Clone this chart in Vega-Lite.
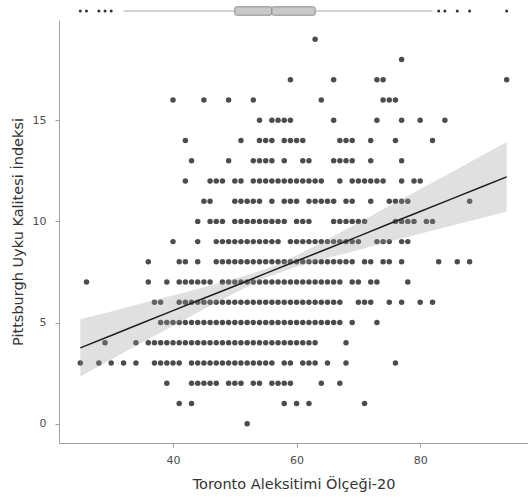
{
"$schema": "https://vega.github.io/schema/vega-lite/v6.json",
"padding": {"left": 10, "top": 0, "right": 0, "bottom": 2},
"config": {"font": "DejaVu Sans", "view": {"stroke": null}},
"datasets": {
"box": [{"lower": 32, "q1": 50, "median": 56, "q3": 63, "upper": 82}],
"outliers": [{"x": 25}, {"x": 26}, {"x": 28}, {"x": 29}, {"x": 30}, {"x": 83}, {"x": 84}, {"x": 86}, {"x": 88}, {"x": 94}],
"fit": [
{"x": 25, "fit": 3.75, "lo": 2.34, "hi": 5.16},
{"x": 30, "fit": 4.36, "lo": 3.17, "hi": 5.55},
{"x": 35, "fit": 4.98, "lo": 4.01, "hi": 5.95},
{"x": 40, "fit": 5.59, "lo": 4.84, "hi": 6.34},
{"x": 45, "fit": 6.20, "lo": 5.66, "hi": 6.74},
{"x": 50, "fit": 6.81, "lo": 6.46, "hi": 7.16},
{"x": 55, "fit": 7.43, "lo": 7.21, "hi": 7.65},
{"x": 60, "fit": 8.04, "lo": 7.76, "hi": 8.32},
{"x": 65, "fit": 8.65, "lo": 8.19, "hi": 9.11},
{"x": 70, "fit": 9.26, "lo": 8.59, "hi": 9.93},
{"x": 75, "fit": 9.88, "lo": 9.00, "hi": 10.76},
{"x": 80, "fit": 10.49, "lo": 9.39, "hi": 11.59},
{"x": 85, "fit": 11.10, "lo": 9.78, "hi": 12.42},
{"x": 90, "fit": 11.71, "lo": 10.17, "hi": 13.25},
{"x": 94, "fit": 12.20, "lo": 10.48, "hi": 13.92}
],
"points": [
{"y":19,"x":63},
{"y":18,"x":77},
{"y":17,"x":59},{"y":17,"x":66},{"y":17,"x":73},{"y":17,"x":74},{"y":17,"x":94},
{"y":16,"x":40},{"y":16,"x":45},{"y":16,"x":49},{"y":16,"x":53},{"y":16,"x":64},{"y":16,"x":74},{"y":16,"x":75},{"y":16,"x":76},
{"y":15,"x":54},{"y":15,"x":56},{"y":15,"x":57},{"y":15,"x":58},{"y":15,"x":59},{"y":15,"x":66},{"y":15,"x":73},{"y":15,"x":77},{"y":15,"x":80},{"y":15,"x":84},
{"y":14,"x":42},{"y":14,"x":51},{"y":14,"x":54},{"y":14,"x":55},{"y":14,"x":56},{"y":14,"x":58},{"y":14,"x":59},{"y":14,"x":60},{"y":14,"x":61},{"y":14,"x":67},{"y":14,"x":68},{"y":14,"x":69},{"y":14,"x":72},{"y":14,"x":76},{"y":14,"x":82},
{"y":13,"x":43},{"y":13,"x":49},{"y":13,"x":53},{"y":13,"x":54},{"y":13,"x":55},{"y":13,"x":56},{"y":13,"x":58},{"y":13,"x":61},{"y":13,"x":62},{"y":13,"x":66},{"y":13,"x":67},{"y":13,"x":68},{"y":13,"x":69},{"y":13,"x":72},{"y":13,"x":77},
{"y":12,"x":42},{"y":12,"x":46},{"y":12,"x":47},{"y":12,"x":48},{"y":12,"x":50},{"y":12,"x":51},{"y":12,"x":53},{"y":12,"x":54},{"y":12,"x":55},{"y":12,"x":56},{"y":12,"x":57},{"y":12,"x":58},{"y":12,"x":59},{"y":12,"x":60},{"y":12,"x":61},{"y":12,"x":62},{"y":12,"x":63},{"y":12,"x":64},{"y":12,"x":67},{"y":12,"x":69},{"y":12,"x":70},{"y":12,"x":71},{"y":12,"x":72},{"y":12,"x":73},{"y":12,"x":74},{"y":12,"x":77},{"y":12,"x":79},{"y":12,"x":80},
{"y":11,"x":45},{"y":11,"x":46},{"y":11,"x":50},{"y":11,"x":51},{"y":11,"x":52},{"y":11,"x":53},{"y":11,"x":54},{"y":11,"x":56},{"y":11,"x":58},{"y":11,"x":59},{"y":11,"x":60},{"y":11,"x":62},{"y":11,"x":63},{"y":11,"x":64},{"y":11,"x":65},{"y":11,"x":66},{"y":11,"x":68},{"y":11,"x":69},{"y":11,"x":72},{"y":11,"x":75},{"y":11,"x":76},{"y":11,"x":77},{"y":11,"x":78},{"y":11,"x":88},
{"y":10,"x":44},{"y":10,"x":46},{"y":10,"x":47},{"y":10,"x":48},{"y":10,"x":50},{"y":10,"x":51},{"y":10,"x":52},{"y":10,"x":53},{"y":10,"x":54},{"y":10,"x":55},{"y":10,"x":56},{"y":10,"x":57},{"y":10,"x":58},{"y":10,"x":60},{"y":10,"x":61},{"y":10,"x":62},{"y":10,"x":66},{"y":10,"x":67},{"y":10,"x":68},{"y":10,"x":69},{"y":10,"x":70},{"y":10,"x":71},{"y":10,"x":76},{"y":10,"x":77},{"y":10,"x":78},{"y":10,"x":79},{"y":10,"x":81},{"y":10,"x":82},
{"y":9,"x":40},{"y":9,"x":44},{"y":9,"x":47},{"y":9,"x":48},{"y":9,"x":49},{"y":9,"x":50},{"y":9,"x":51},{"y":9,"x":52},{"y":9,"x":53},{"y":9,"x":54},{"y":9,"x":55},{"y":9,"x":56},{"y":9,"x":57},{"y":9,"x":59},{"y":9,"x":60},{"y":9,"x":61},{"y":9,"x":62},{"y":9,"x":63},{"y":9,"x":64},{"y":9,"x":65},{"y":9,"x":66},{"y":9,"x":67},{"y":9,"x":68},{"y":9,"x":69},{"y":9,"x":70},{"y":9,"x":73},{"y":9,"x":74},{"y":9,"x":75},{"y":9,"x":77},{"y":9,"x":78},
{"y":8,"x":36},{"y":8,"x":41},{"y":8,"x":42},{"y":8,"x":44},{"y":8,"x":47},{"y":8,"x":48},{"y":8,"x":49},{"y":8,"x":50},{"y":8,"x":51},{"y":8,"x":52},{"y":8,"x":53},{"y":8,"x":54},{"y":8,"x":55},{"y":8,"x":56},{"y":8,"x":57},{"y":8,"x":58},{"y":8,"x":59},{"y":8,"x":60},{"y":8,"x":61},{"y":8,"x":62},{"y":8,"x":63},{"y":8,"x":64},{"y":8,"x":65},{"y":8,"x":66},{"y":8,"x":67},{"y":8,"x":68},{"y":8,"x":69},{"y":8,"x":71},{"y":8,"x":72},{"y":8,"x":74},{"y":8,"x":75},{"y":8,"x":77},{"y":8,"x":83},{"y":8,"x":86},{"y":8,"x":88},
{"y":7,"x":26},{"y":7,"x":36},{"y":7,"x":39},{"y":7,"x":41},{"y":7,"x":42},{"y":7,"x":43},{"y":7,"x":44},{"y":7,"x":45},{"y":7,"x":46},{"y":7,"x":48},{"y":7,"x":49},{"y":7,"x":50},{"y":7,"x":51},{"y":7,"x":52},{"y":7,"x":53},{"y":7,"x":54},{"y":7,"x":55},{"y":7,"x":56},{"y":7,"x":57},{"y":7,"x":58},{"y":7,"x":59},{"y":7,"x":60},{"y":7,"x":61},{"y":7,"x":62},{"y":7,"x":63},{"y":7,"x":64},{"y":7,"x":65},{"y":7,"x":66},{"y":7,"x":67},{"y":7,"x":69},{"y":7,"x":70},{"y":7,"x":72},{"y":7,"x":73},{"y":7,"x":78},
{"y":6,"x":37},{"y":6,"x":38},{"y":6,"x":41},{"y":6,"x":42},{"y":6,"x":43},{"y":6,"x":44},{"y":6,"x":45},{"y":6,"x":46},{"y":6,"x":47},{"y":6,"x":48},{"y":6,"x":49},{"y":6,"x":50},{"y":6,"x":51},{"y":6,"x":52},{"y":6,"x":53},{"y":6,"x":54},{"y":6,"x":55},{"y":6,"x":56},{"y":6,"x":57},{"y":6,"x":58},{"y":6,"x":59},{"y":6,"x":60},{"y":6,"x":61},{"y":6,"x":62},{"y":6,"x":63},{"y":6,"x":64},{"y":6,"x":65},{"y":6,"x":66},{"y":6,"x":67},{"y":6,"x":70},{"y":6,"x":71},{"y":6,"x":72},{"y":6,"x":75},{"y":6,"x":77},{"y":6,"x":80},{"y":6,"x":82},
{"y":5,"x":38},{"y":5,"x":39},{"y":5,"x":40},{"y":5,"x":41},{"y":5,"x":42},{"y":5,"x":43},{"y":5,"x":44},{"y":5,"x":45},{"y":5,"x":46},{"y":5,"x":47},{"y":5,"x":48},{"y":5,"x":49},{"y":5,"x":50},{"y":5,"x":51},{"y":5,"x":52},{"y":5,"x":53},{"y":5,"x":54},{"y":5,"x":55},{"y":5,"x":56},{"y":5,"x":57},{"y":5,"x":58},{"y":5,"x":59},{"y":5,"x":60},{"y":5,"x":61},{"y":5,"x":62},{"y":5,"x":63},{"y":5,"x":64},{"y":5,"x":65},{"y":5,"x":66},{"y":5,"x":67},{"y":5,"x":69},{"y":5,"x":73},
{"y":4,"x":29},{"y":4,"x":34},{"y":4,"x":36},{"y":4,"x":37},{"y":4,"x":38},{"y":4,"x":39},{"y":4,"x":40},{"y":4,"x":41},{"y":4,"x":42},{"y":4,"x":43},{"y":4,"x":44},{"y":4,"x":45},{"y":4,"x":46},{"y":4,"x":47},{"y":4,"x":48},{"y":4,"x":49},{"y":4,"x":50},{"y":4,"x":51},{"y":4,"x":52},{"y":4,"x":53},{"y":4,"x":54},{"y":4,"x":55},{"y":4,"x":56},{"y":4,"x":57},{"y":4,"x":58},{"y":4,"x":59},{"y":4,"x":60},{"y":4,"x":61},{"y":4,"x":62},{"y":4,"x":63},{"y":4,"x":68},
{"y":3,"x":25},{"y":3,"x":28},{"y":3,"x":30},{"y":3,"x":32},{"y":3,"x":34},{"y":3,"x":37},{"y":3,"x":38},{"y":3,"x":39},{"y":3,"x":40},{"y":3,"x":41},{"y":3,"x":43},{"y":3,"x":44},{"y":3,"x":45},{"y":3,"x":46},{"y":3,"x":47},{"y":3,"x":48},{"y":3,"x":49},{"y":3,"x":50},{"y":3,"x":51},{"y":3,"x":52},{"y":3,"x":53},{"y":3,"x":54},{"y":3,"x":55},{"y":3,"x":56},{"y":3,"x":58},{"y":3,"x":59},{"y":3,"x":61},{"y":3,"x":62},{"y":3,"x":63},{"y":3,"x":65},{"y":3,"x":68},{"y":3,"x":76},
{"y":2,"x":39},{"y":2,"x":43},{"y":2,"x":44},{"y":2,"x":45},{"y":2,"x":46},{"y":2,"x":47},{"y":2,"x":49},{"y":2,"x":50},{"y":2,"x":51},{"y":2,"x":53},{"y":2,"x":54},{"y":2,"x":56},{"y":2,"x":57},{"y":2,"x":58},{"y":2,"x":59},{"y":2,"x":64},{"y":2,"x":67},
{"y":1,"x":41},{"y":1,"x":43},{"y":1,"x":58},{"y":1,"x":60},{"y":1,"x":62},{"y":1,"x":71},
{"y":0,"x":52}
]
},
"spacing": 0,
"vconcat": [
{
"width": 469,
"height": 20,
"layer": [
{"data": {"name": "box"}, "mark": {"type": "rule", "color": "#a6a6a6", "strokeWidth": 1},
 "encoding": {
  "x": {"field": "lower", "type": "quantitative", "scale": {"domain": [21.55, 97.45], "nice": false, "zero": false}, "axis": null},
  "x2": {"field": "upper"},
  "y": {"datum": 0.45, "type": "quantitative", "scale": {"domain": [0, 1], "nice": false, "zero": false}, "axis": null}}},
{"data": {"name": "box"}, "mark": {"type": "rect", "fill": "#c8c8c8", "stroke": "#8c8c8c", "strokeWidth": 1, "cornerRadius": 1.5},
 "encoding": {
  "x": {"field": "q1", "type": "quantitative"},
  "x2": {"field": "median"},
  "y": {"datum": 0.24, "type": "quantitative"},
  "y2": {"datum": 0.66}}},
{"data": {"name": "box"}, "mark": {"type": "rect", "fill": "#c8c8c8", "stroke": "#8c8c8c", "strokeWidth": 1, "cornerRadius": 1.5},
 "encoding": {
  "x": {"field": "median", "type": "quantitative"},
  "x2": {"field": "q3"},
  "y": {"datum": 0.24, "type": "quantitative"},
  "y2": {"datum": 0.66}}},
{"data": {"name": "outliers"}, "mark": {"type": "circle", "color": "#333333", "opacity": 1, "size": 9},
 "encoding": {
  "x": {"field": "x", "type": "quantitative"},
  "y": {"datum": 0.45, "type": "quantitative"}}}
]
},
{
"width": 469,
"height": 423,
"layer": [
{"data": {"name": "points"}, "mark": {"type": "circle", "color": "#333333", "opacity": 0.88, "size": 30},
 "encoding": {
  "x": {"field": "x", "type": "quantitative", "scale": {"domain": [21.55, 97.45], "nice": false, "zero": false},
   "axis": {"title": "Toronto Aleksitimi Ölçeği-20", "values": [40, 60, 80], "grid": false, "tickSize": 4, "labelFontSize": 11, "titleFontSize": 14.5, "labelColor": "#4d4d4d", "titleColor": "#333333", "titleFontWeight": "normal", "domainColor": "#9e9e9e", "tickColor": "#9e9e9e", "labelPadding": 7, "titlePadding": 12}},
  "y": {"field": "y", "type": "quantitative", "scale": {"domain": [-0.95, 19.95], "nice": false, "zero": false},
   "axis": {"title": "Pittsburgh Uyku Kalitesi İndeksi", "values": [0, 5, 10, 15], "grid": false, "tickSize": 4, "labelFontSize": 11, "titleFontSize": 14.5, "labelColor": "#4d4d4d", "titleColor": "#333333", "titleFontWeight": "normal", "domainColor": "#9e9e9e", "tickColor": "#9e9e9e", "labelPadding": 9, "titlePadding": 7}}}},
{"data": {"name": "fit"}, "mark": {"type": "area", "color": "#999999", "opacity": 0.3},
 "encoding": {
  "x": {"field": "x", "type": "quantitative"},
  "y": {"field": "lo", "type": "quantitative"},
  "y2": {"field": "hi"}}},
{"data": {"name": "fit"}, "mark": {"type": "line", "color": "#1f1f1f", "strokeWidth": 1.5},
 "encoding": {
  "x": {"field": "x", "type": "quantitative"},
  "y": {"field": "fit", "type": "quantitative"}}}
]
}
]
}
